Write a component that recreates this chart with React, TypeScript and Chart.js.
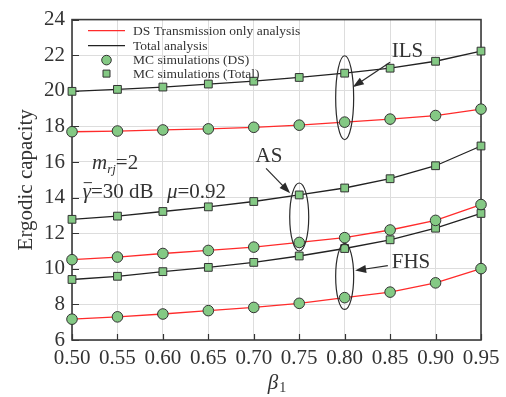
import React, { useEffect, useRef } from "react";
import { Chart, registerables } from "chart.js";

Chart.register(...registerables);

// ---------- data ----------
const betaLabels = ["0.50", "0.55", "0.60", "0.65", "0.70", "0.75", "0.80", "0.85", "0.90", "0.95"];

const ilsTotal = [19.97, 20.08, 20.21, 20.38, 20.54, 20.75, 20.99, 21.27, 21.66, 22.23];
const ilsDS = [17.7, 17.74, 17.8, 17.86, 17.95, 18.07, 18.24, 18.41, 18.61, 18.97];
const asTotal = [12.78, 12.96, 13.22, 13.48, 13.78, 14.15, 14.54, 15.06, 15.79, 16.9];
const asDS = [10.51, 10.66, 10.86, 11.03, 11.22, 11.48, 11.75, 12.18, 12.72, 13.61];
const fhsTotal = [9.4, 9.58, 9.84, 10.08, 10.36, 10.72, 11.14, 11.63, 12.28, 13.11];
const fhsDS = [7.17, 7.3, 7.46, 7.65, 7.83, 8.06, 8.38, 8.69, 9.21, 10.01];

const yMin = 6;
const yMax = 24;
const yStep = 2;

const legendLabels = [
  "DS Transmission only analysis",
  "Total analysis",
  "MC simulations (DS)",
  "MC simulations (Total)",
];

// ---------- styles ----------
const FONT = "'Liberation Serif', 'Times New Roman', serif";
const TXT = "#333333";
const GREEN = "#84c984";
const RED = "#ff2b2b";
const BLACK = "#222222";
const EDGE = "#333333";

function ds(data: number[], kind: "ds" | "total") {
  const isDS = kind === "ds";
  return {
    data,
    borderColor: isDS ? RED : BLACK,
    borderWidth: 1.3,
    backgroundColor: GREEN,
    pointBackgroundColor: GREEN,
    pointBorderColor: EDGE,
    pointBorderWidth: 1,
    pointStyle: isDS ? "circle" : "rect",
    pointRadius: isDS ? 5.3 : 5.5,
    tension: 0,
    fill: false,
  };
}

const decor = {
  id: "decor",
  beforeDatasetsDraw(chart: any) {
    const { ctx, chartArea: a, scales } = chart;
    const x = scales.x;
    const y = scales.y;
    ctx.save();
    ctx.strokeStyle = EDGE;
    ctx.lineWidth = 1.2;
    ctx.beginPath();
    for (let v = yMin; v <= yMax; v += yStep) {
      const py = Math.round(y.getPixelForValue(v)) + 0.5;
      ctx.moveTo(a.left, py);
      ctx.lineTo(a.left + 7, py);
    }
    for (let i = 0; i < betaLabels.length; i++) {
      const px = Math.round(x.getPixelForValue(i)) + 0.5;
      ctx.moveTo(px, a.bottom);
      ctx.lineTo(px, a.bottom - 6);
    }
    ctx.stroke();
    ctx.lineWidth = 1.6;
    ctx.strokeStyle = "#3a3a3a";
    ctx.strokeRect(a.left, a.top, a.right - a.left, a.bottom - a.top);
    ctx.restore();
  },
  afterDatasetsDraw(chart: any) {
    const { ctx, chartArea: a, scales } = chart;
    const x = scales.x;
    const y = scales.y;
    const X = (i: number) => x.getPixelForValue(0) + i * (x.getPixelForValue(1) - x.getPixelForValue(0));
    const Y = (v: number) => y.getPixelForValue(v);
    ctx.save();

    // ---- ellipses ----
    ctx.strokeStyle = "#2a2a2a";
    ctx.lineWidth = 1.2;
    const ell = (i: number, v: number, rx: number, ry: number) => {
      ctx.beginPath();
      ctx.ellipse(X(i), Y(v), rx, ry, 0, 0, Math.PI * 2);
      ctx.stroke();
    };
    ell(5, 12.91, 9.5, 34);
    ell(6, 9.57, 9, 33);
    ell(6, 19.61, 9, 42);

    // ---- arrows ----
    const arrow = (i1: number, v1: number, i2: number, v2: number) => {
      const x1 = X(i1), y1 = Y(v1), x2 = X(i2), y2 = Y(v2);
      const ang = Math.atan2(y2 - y1, x2 - x1);
      const hl = 11, hw = 4;
      ctx.strokeStyle = "#2a2a2a";
      ctx.fillStyle = "#2a2a2a";
      ctx.lineWidth = 1.2;
      ctx.beginPath();
      ctx.moveTo(x1, y1);
      ctx.lineTo(x2 - Math.cos(ang) * hl * 0.8, y2 - Math.sin(ang) * hl * 0.8);
      ctx.stroke();
      ctx.beginPath();
      ctx.moveTo(x2, y2);
      ctx.lineTo(x2 - Math.cos(ang) * hl - Math.sin(ang) * hw, y2 - Math.sin(ang) * hl + Math.cos(ang) * hw);
      ctx.lineTo(x2 - Math.cos(ang) * hl + Math.sin(ang) * hw, y2 - Math.sin(ang) * hl - Math.cos(ang) * hw);
      ctx.closePath();
      ctx.fill();
    };
    arrow(4.27, 15.64, 4.8, 14.25);
    arrow(6.95, 10.18, 6.23, 9.9);
    arrow(7.0, 21.6, 6.18, 20.21);

    // ---- labels ----
    ctx.fillStyle = TXT;
    ctx.textBaseline = "middle";
    ctx.font = `21px ${FONT}`;
    ctx.textAlign = "center";
    ctx.fillText("AS", X(4.335), Y(16.31));
    ctx.textAlign = "left";
    ctx.fillText("FHS", X(7.035), Y(10.35));
    ctx.fillText("ILS", X(7.035), Y(22.22));

    // m_rj = 2
    ctx.textBaseline = "alphabetic";
    let px = X(0.44);
    let py = Y(15.58);
    ctx.font = `italic 21px ${FONT}`;
    ctx.fillText("m", px, py);
    px += ctx.measureText("m").width;
    ctx.font = `italic 13px ${FONT}`;
    ctx.fillText("rj", px, py + 4);
    px += ctx.measureText("rj").width;
    ctx.font = `21px ${FONT}`;
    ctx.fillText("=2", px, py);

    // gamma bar = 30 dB, mu = 0.92
    px = X(0.235);
    py = Y(13.97);
    ctx.font = `italic 21px ${FONT}`;
    ctx.fillText("\u03b3", px, py);
    const gw = ctx.measureText("\u03b3").width;
    ctx.strokeStyle = TXT;
    ctx.lineWidth = 1;
    ctx.beginPath();
    ctx.moveTo(px + 1, py - 15.5);
    ctx.lineTo(px + gw + 1, py - 15.5);
    ctx.stroke();
    px += gw;
    ctx.font = `21px ${FONT}`;
    ctx.fillText("=30 dB", px, py);
    px = X(2.09);
    ctx.font = `italic 21px ${FONT}`;
    ctx.fillText("\u03bc", px, py);
    px += ctx.measureText("\u03bc").width;
    ctx.font = `21px ${FONT}`;
    ctx.fillText("=0.92", px, py);

    // ---- x title ----
    const cx = (a.left + a.right) / 2;
    ctx.font = `italic 21px ${FONT}`;
    const bw = ctx.measureText("\u03b2").width;
    ctx.font = `14px ${FONT}`;
    const ow = ctx.measureText("1").width;
    const tx = cx - (bw + ow) / 2;
    ctx.font = `italic 21px ${FONT}`;
    ctx.fillText("\u03b2", tx, 389);
    ctx.font = `14px ${FONT}`;
    ctx.fillText("1", tx + bw + 1, 392);

    // ---- legend ----
    const lx0 = a.left + 16;
    const lx1 = a.left + 53;
    const mx = (lx0 + lx1) / 2;
    const tx0 = a.left + 61;
    const rows = [a.top + 11, a.top + 26, a.top + 40.5, a.top + 54];
    ctx.lineWidth = 1.3;
    ctx.strokeStyle = RED;
    ctx.beginPath();
    ctx.moveTo(lx0, rows[0]);
    ctx.lineTo(lx1, rows[0]);
    ctx.stroke();
    ctx.strokeStyle = BLACK;
    ctx.beginPath();
    ctx.moveTo(lx0, rows[1]);
    ctx.lineTo(lx1, rows[1]);
    ctx.stroke();
    ctx.fillStyle = GREEN;
    ctx.strokeStyle = EDGE;
    ctx.lineWidth = 1;
    ctx.beginPath();
    ctx.arc(mx, rows[2], 4.8, 0, Math.PI * 2);
    ctx.fill();
    ctx.stroke();
    ctx.beginPath();
    ctx.rect(mx - 3.5, rows[3] - 3.5, 7, 7);
    ctx.fill();
    ctx.stroke();
    ctx.fillStyle = TXT;
    ctx.font = `13.5px ${FONT}`;
    ctx.textBaseline = "middle";
    legendLabels.forEach((t, k) => ctx.fillText(t, tx0, rows[k] + 0.5));

    ctx.restore();
  },
};

export default function App() {
  const ref = useRef<HTMLCanvasElement | null>(null);
  useEffect(() => {
    if (!ref.current) return;
    const chart = new Chart(ref.current, {
      type: "line",
      data: {
        labels: betaLabels,
        datasets: [
          ds(ilsTotal, "total"),
          ds(ilsDS, "ds"),
          ds(asTotal, "total"),
          ds(asDS, "ds"),
          ds(fhsTotal, "total"),
          ds(fhsDS, "ds"),
        ] as any,
      },
      options: {
        animation: false,
        responsive: false,
        layout: { padding: { left: 0, right: 25, top: 17, bottom: 0 } },
        plugins: { legend: { display: false }, tooltip: { enabled: false } },
        scales: {
          x: {
            type: "category",
            offset: false,
            grid: { color: "#dddddd", lineWidth: 1, drawTicks: false },
            border: { display: false },
            ticks: {
              font: { family: FONT, size: 21 },
              color: TXT,
              padding: 6,
              maxRotation: 0,
              autoSkip: false,
            },
            afterFit: (s: any) => {
              s.height = 57;
            },
          },
          y: {
            min: yMin,
            max: yMax,
            grid: { color: "#dddddd", lineWidth: 1, drawTicks: false },
            border: { display: false },
            ticks: {
              stepSize: yStep,
              font: { family: FONT, size: 21 },
              color: TXT,
              padding: 7,
            },
            title: {
              display: true,
              text: "Ergodic capacity",
              font: { family: FONT, size: 21 },
              color: TXT,
              padding: { top: 14, bottom: 0 },
            },
            afterFit: (s: any) => {
              s.width = 72;
            },
          },
        },
      },
      plugins: [decor],
    } as any);
    return () => chart.destroy();
  }, []);
  return (
    <div style={{ position: "fixed", left: 0, top: 0, width: 506, height: 397, background: "#fff" }}>
      <canvas ref={ref} width={506} height={397} style={{ display: "block" }} />
    </div>
  );
}
